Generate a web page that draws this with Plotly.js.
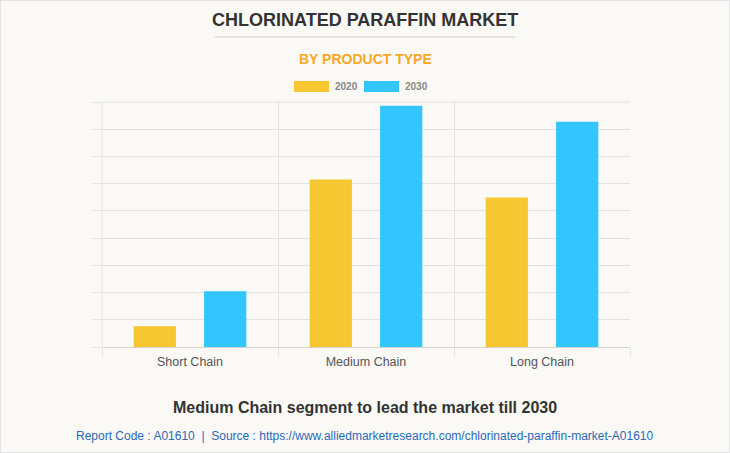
<!DOCTYPE html>
<html><head><meta charset="utf-8">
<script src="https://cdn.plot.ly/plotly-3.0.1.min.js"></script>
<style>
html,body{margin:0;padding:0;background:#faf9f5;}
#wrap{position:relative;width:730px;height:453px;}
#chart{width:730px;height:453px;}
#frame{position:absolute;left:0;top:0;width:730px;height:453px;box-sizing:border-box;border:1px solid #e3e3e3;pointer-events:none;}
</style></head>
<body><div id="wrap"><div id="chart"></div><div id="frame"></div></div>
<script>
const categories = ["Short Chain", "Medium Chain", "Long Chain"];
const series2020 = [0.76, 6.15, 5.49];
const series2030 = [2.05, 8.86, 8.27];
const seriesNames = ["2020", "2030"];
const colors = ["#f6c730", "#33c5fe"];

const traces = [
  {type:"bar", x:categories, y:series2020, name:seriesNames[0], marker:{color:colors[0]}, hoverinfo:"none"},
  {type:"bar", x:categories, y:series2030, name:seriesNames[1], marker:{color:colors[1]}, hoverinfo:"none"}
];

const gridC = "#e4e2dd";
const layout = {
  width:730, height:453,
  paper_bgcolor:"#faf9f5", plot_bgcolor:"#faf9f5",
  margin:{l:102, r:100, t:102, b:106},
  barmode:"group", bargap:0.2, bargroupgap:0.4,
  showlegend:false,
  font:{family:"Liberation Sans, Arial, sans-serif"},
  xaxis:{
    tickson:"boundaries", showgrid:true, gridcolor:gridC, gridwidth:1,
    ticks:"outside", ticklen:8, tickcolor:gridC,
    showline:true, linecolor:"#d6d4cf", linewidth:1,
    tickfont:{size:12.5, color:"#555555"}, ticklabelstandoff:3, fixedrange:true
  },
  yaxis:{
    range:[0,9], dtick:1, showgrid:true, gridcolor:gridC, gridwidth:1,
    ticks:"outside", ticklen:9, tickcolor:gridC,
    showticklabels:false, zeroline:false, showline:false, fixedrange:true
  },
  shapes:[
    {type:"line", xref:"paper", yref:"paper", x0:0, x1:1, y0:1, y1:1, line:{color:gridC, width:1}},
    {type:"line", xref:"paper", yref:"paper", x0:0, x1:0, y0:0, y1:1, line:{color:gridC, width:1}},
    {type:"line", xref:"paper", yref:"paper", x0:(215-102)/528, x1:(515-102)/528, y0:(453-106-37)/245, y1:(453-106-37)/245, line:{color:"#cccccc", width:1}},
    {type:"rect", xref:"paper", yref:"paper", x0:(294-102)/528, x1:(329-102)/528, y0:(453-106-81)/245, y1:(453-106-92)/245, fillcolor:colors[0], line:{width:0}},
    {type:"rect", xref:"paper", yref:"paper", x0:(364-102)/528, x1:(399-102)/528, y0:(453-106-81)/245, y1:(453-106-92)/245, fillcolor:colors[1], line:{width:0}}
  ],
  annotations:[
    {text:"<b>CHLORINATED PARAFFIN MARKET</b>", xref:"paper", yref:"paper", x:(365-102)/528, y:(453-106-20)/245, xanchor:"center", yanchor:"middle", showarrow:false, font:{family:"Liberation Sans, Arial, sans-serif", size:18, color:"#333333"}},
    {text:"<b>BY PRODUCT TYPE</b>", xref:"paper", yref:"paper", x:(365-102)/528, y:(453-106-59)/245, xanchor:"center", yanchor:"middle", showarrow:false, font:{family:"Liberation Sans, Arial, sans-serif", size:14, color:"#f9a825"}},
    {text:"<b>"+seriesNames[0]+"</b>", xref:"paper", yref:"paper", x:(333-102)/528, y:(453-106-86.5)/245, xanchor:"left", yanchor:"middle", showarrow:false, font:{size:10, color:"#888888"}},
    {text:"<b>"+seriesNames[1]+"</b>", xref:"paper", yref:"paper", x:(403-102)/528, y:(453-106-86.5)/245, xanchor:"left", yanchor:"middle", showarrow:false, font:{size:10, color:"#888888"}},
    {text:"<b>Medium Chain segment to lead the market till 2030</b>", xref:"paper", yref:"paper", x:(365-102)/528, y:(453-106-408)/245, xanchor:"center", yanchor:"middle", showarrow:false, font:{family:"Liberation Sans, Arial, sans-serif", size:16, color:"#333333"}},
    {text:"Report Code : A01610  |  Source : https://www.alliedmarketresearch.com/chlorinated-paraffin-market-A01610", xref:"paper", yref:"paper", x:(365-102)/528, y:(453-106-436)/245, xanchor:"center", yanchor:"middle", showarrow:false, font:{family:"Liberation Sans Narrow, Liberation Sans, Arial, sans-serif", size:12, color:"#2a6ab8"}}
  ]
};
Plotly.newPlot("chart", traces, layout, {displayModeBar:false, staticPlot:true});
</script></body></html>
